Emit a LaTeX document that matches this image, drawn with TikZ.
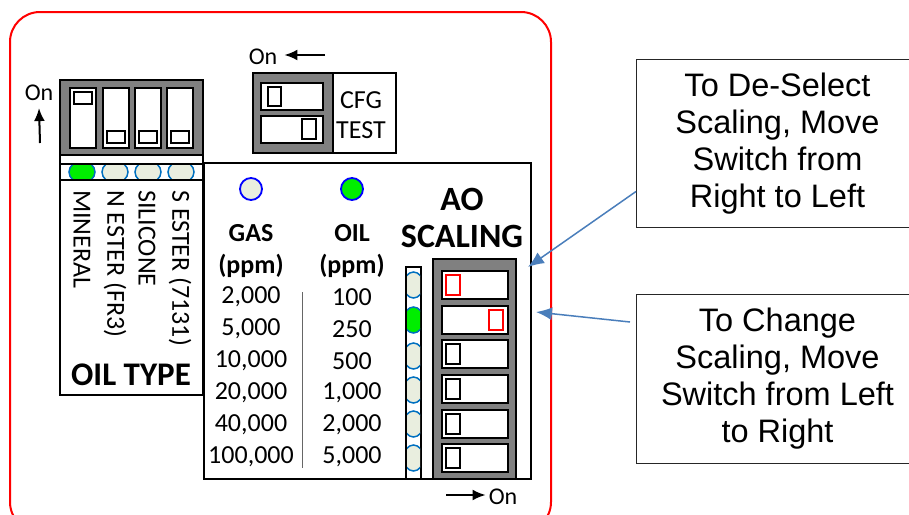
\documentclass[tikz,border=0pt]{standalone}
\usepackage{fontspec}
\setmainfont{Carlito}
\newfontfamily\calloutfont{Liberation Sans}
\usetikzlibrary{arrows,arrows.meta,calc}
\definecolor{ledoff}{HTML}{E9EEDF}
\definecolor{ledon}{HTML}{00EE00}
\definecolor{ledrim}{HTML}{0070C0}
\definecolor{pointerblue}{HTML}{4A7EBB}
\definecolor{panelgray}{HTML}{808080}
\tikzstyle{panellabel} = [anchor=center, color=black, inner sep=0pt]
\tikzstyle{vlabel} = [anchor=west, rotate=-90, color=black, inner sep=0pt]
\tikzstyle{headlabel} = [anchor=center, color=black, inner sep=0pt, font={\fontsize{26}{30}\selectfont\bfseries}]
\tikzstyle{biglabel} = [anchor=center, color=black, inner sep=0pt, font={\fontsize{34}{38}\selectfont\bfseries}]
\tikzstyle{slot} = [draw=black, fill=white, line width=2pt]
\tikzstyle{knob} = [draw=black, fill=white, line width=1.6pt]
\tikzstyle{knobon} = [draw=red, fill=white, line width=1.6pt]
\tikzstyle{block} = [draw=black, fill=panelgray, line width=2pt]
\tikzstyle{onarrow} = [black, line width=2pt, -{Latex[length=13pt, width=11pt]}]
\tikzstyle{callout} = [draw=black!85, line width=1pt, fill=white, align=center, inner sep=0pt,
  minimum width=282pt, font={\calloutfont\fontsize{32.5}{37}\selectfont}]
\tikzstyle{pointer} = [pointerblue, line width=1.5pt, -{Latex[length=16pt, width=13pt]}]
\tikzset{font={\fontsize{26}{30}\selectfont}}

\begin{document}
\begin{tikzpicture}[x=1pt, y=-1pt]
  \path[use as bounding box, clip] (0,0) rectangle (909,514);

  % frame
  \draw[red, line width=2pt, rounded corners=30pt] (10,12) rectangle (551,532);

  % main panel
  \filldraw[draw=black, fill=white, line width=2pt] (204,163) rectangle (531,479);

  % oil type
  \begin{scope}
    \filldraw[draw=black, fill=white, line width=2pt] (60,155) rectangle (203,395);
    \filldraw[block] (60,80) rectangle (203,155);
    \filldraw[slot] (70,88) rectangle ++ (26,60);
    \filldraw[slot] (103,88) rectangle ++ (26,60);
    \filldraw[slot] (135,88) rectangle ++ (26,60);
    \filldraw[slot] (167,88) rectangle ++ (26,60);
    \filldraw[knob] (74,92) rectangle ++ (18,12);
    \filldraw[knob] (107,131) rectangle ++ (18,12);
    \filldraw[knob] (139,131) rectangle ++ (18,12);
    \filldraw[knob] (171,131) rectangle ++ (18,12);
    \begin{scope}
      \clip (60,164) rectangle (203,180);
      \filldraw[draw=ledrim, fill=ledon, line width=1.5pt] (82,172) ellipse (13pt and 11pt);
      \filldraw[draw=ledrim, fill=ledoff, line width=1.5pt] (115,172) ellipse (13pt and 11pt);
      \filldraw[draw=ledrim, fill=ledoff, line width=1.5pt] (148,172) ellipse (13pt and 11pt);
      \filldraw[draw=ledrim, fill=ledoff, line width=1.5pt] (181,172) ellipse (13pt and 11pt);
    \end{scope}
    \draw[line width=1.5pt] (60,164) -- (203,164);
    \draw[line width=1.5pt] (60,180) -- (203,180);
    \node[vlabel] (mineral) at (82,190) {MINERAL};
    \node[vlabel] (nester) at (115,190) {N ESTER (FR3)};
    \node[vlabel] (silicone) at (147,190) {SILICONE};
    \node[vlabel] (sester) at (180,190) {S ESTER (7131)};
    \node[panellabel, font={\fontsize{33}{36}\selectfont\bfseries}] (oiltype) at (131,375) {OIL TYPE};
  \end{scope}

  \node[panellabel, font={\fontsize{24}{28}\selectfont}] (onup) at (39,93) {On};
  \coordinate (uptail) at (40,143);
  \draw[onarrow] (uptail) -- ([yshift=-7pt]onup.south);

  % cfg / test
  \begin{scope}
    \filldraw[draw=black, fill=white, line width=2pt] (253,73) rectangle (396,153);
    \filldraw[block] (253,73) rectangle (333,153);
    \filldraw[slot] (261,83) rectangle (323,110);
    \filldraw[slot] (261,116) rectangle (323,143);
    \filldraw[knob] (268,87) rectangle (281,106);
    \filldraw[knob] (302,119) rectangle (316,139);
    \node[panellabel] (cfg) at (361,100) {CFG};
    \node[panellabel] (test) at (361,130) {TEST};
  \end{scope}

  \node[panellabel, font={\fontsize{24}{28}\selectfont}] (onleft) at (263,57) {On};
  \coordinate (lefttail) at (325,55);
  \draw[onarrow] (lefttail) -- ([xshift=7pt,yshift=2pt]onleft.east);

  % gas / oil ranges
  \filldraw[draw=blue, fill=ledoff, line width=1.8pt] (251,189) circle (11pt);
  \filldraw[draw=blue, fill=ledon, line width=1.8pt] (352,189) circle (11pt);
  \node[headlabel] (gas) at (251,233) {GAS};
  \node[headlabel] (gasunit) at (251,266) {(ppm)};
  \node[headlabel] (oil) at (352,233) {OIL};
  \node[headlabel] (oilunit) at (352,266) {(ppm)};

  \node[panellabel] (gasa) at (251,297) {2,000};
  \node[panellabel] (gasb) at (251,329) {5,000};
  \node[panellabel] (gasc) at (251,361) {10,000};
  \node[panellabel] (gasd) at (251,393) {20,000};
  \node[panellabel] (gase) at (251,425) {40,000};
  \node[panellabel] (gasf) at (251,457) {100,000};

  \node[panellabel] (oila) at (352,297) {100};
  \node[panellabel] (oilb) at (352,329) {250};
  \node[panellabel] (oilc) at (352,361) {500};
  \node[panellabel] (oild) at (352,393) {1,000};
  \node[panellabel] (oile) at (352,425) {2,000};
  \node[panellabel] (oilf) at (352,457) {5,000};

  \draw[black!60, line width=0.8pt] (302,292) -- (302,468);

  % led column
  \filldraw[draw=black, fill=white, line width=2pt] (406,267) rectangle (421,479);
  \begin{scope}
    \clip (407,268) rectangle (420,478);
    \filldraw[draw=ledrim, fill=ledoff, line width=1.5pt] (413.5,285) ellipse (10pt and 13pt);
    \filldraw[draw=ledrim, fill=ledon, line width=1.5pt] (413.5,320) ellipse (10pt and 13pt);
    \filldraw[draw=ledrim, fill=ledoff, line width=1.5pt] (413.5,356) ellipse (10pt and 13pt);
    \filldraw[draw=ledrim, fill=ledoff, line width=1.5pt] (413.5,390) ellipse (10pt and 13pt);
    \filldraw[draw=ledrim, fill=ledoff, line width=1.5pt] (413.5,424) ellipse (10pt and 13pt);
    \filldraw[draw=ledrim, fill=ledoff, line width=1.5pt] (413.5,458) ellipse (10pt and 13pt);
  \end{scope}

  % ao scaling
  \node[biglabel] (ao) at (462,199) {AO};
  \node[biglabel] (scaling) at (462,236) {SCALING};
  \begin{scope}
    \filldraw[block] (433,259) rectangle (516,479);
    \filldraw[slot] (442,271) rectangle ++ (66,28);
    \filldraw[slot] (442,306) rectangle ++ (66,28);
    \filldraw[slot] (442,340) rectangle ++ (66,28);
    \filldraw[slot] (442,375) rectangle ++ (66,28);
    \filldraw[slot] (442,410) rectangle ++ (66,28);
    \filldraw[slot] (442,444) rectangle ++ (66,28);
    \filldraw[knobon] (446,275) rectangle ++ (14,20);
    \filldraw[knobon] (489,310) rectangle ++ (14,20);
    \filldraw[knob] (446,344) rectangle ++ (14,20);
    \filldraw[knob] (446,379) rectangle ++ (14,20);
    \filldraw[knob] (446,414) rectangle ++ (14,20);
    \filldraw[knob] (446,448) rectangle ++ (14,20);
  \end{scope}

  \node[panellabel, font={\fontsize{24}{28}\selectfont}] (onright) at (503,497) {On};
  \coordinate (righttail) at (446,495);
  \draw[onarrow] (righttail) -- ([xshift=-3pt,yshift=2pt]onright.west);

  % callouts
  \node[callout, minimum height=168pt, anchor=north west] (deselect) at (636,59)
    {To De-Select\\Scaling, Move\\Switch from\\Right to Left};
  \node[callout, minimum height=169pt, anchor=north west] (change) at (636,294)
    {To Change\\Scaling, Move\\Switch from Left\\to Right};
  \coordinate (deselecttip) at (528,267);
  \coordinate (changetip) at (536,312);
  \draw[pointer] ([yshift=-48pt]deselect.west) -- (deselecttip);
  \draw[pointer] ([xshift=-6pt,yshift=57pt]change.west) -- (changetip);
\end{tikzpicture}
\end{document}
